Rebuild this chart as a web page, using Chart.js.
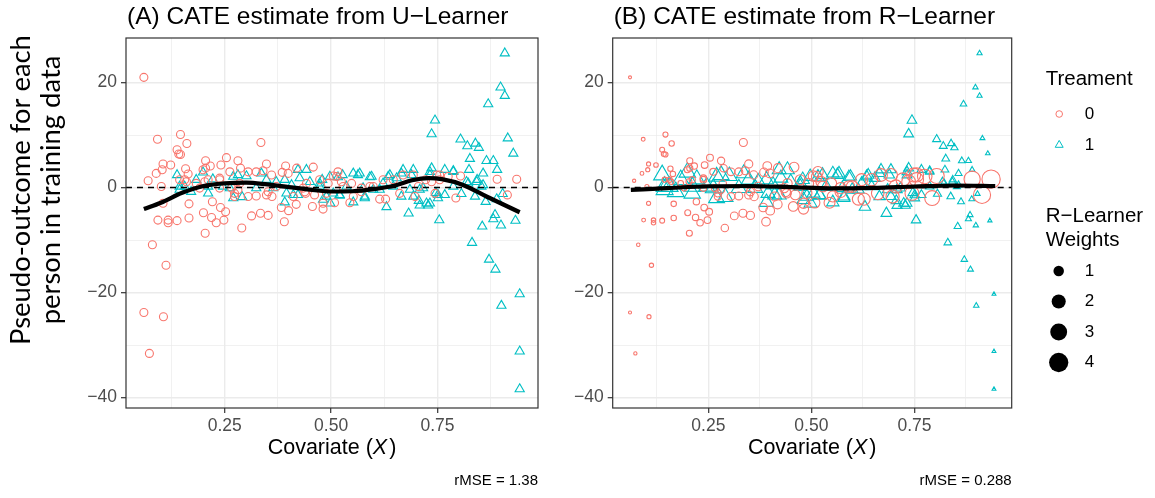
<!DOCTYPE html>
<html>
<head>
<meta charset="utf-8">
<script src="https://cdn.jsdelivr.net/npm/chart.js@4.4.1/dist/chart.umd.min.js"></script>
<style>
    body { margin: 0; background: #ffffff; }
    #wrap { position: relative; width: 1155px; height: 498px; }
    #chartA { position: absolute; left: 0; top: 0; }
    #chartB { position: absolute; left: 560px; top: 0; }
</style>
</head>
<body>
<div id="wrap">
    <canvas id="chartA" width="560" height="498"></canvas>
    <canvas id="chartB" width="595" height="498"></canvas>
</div>
<script>
// ---- data ----
// control group (Treament = 0)
var ctrlX = [0.060,0.092,0.146,0.161,0.335,0.138,0.142,0.146,0.080,0.112,0.060,0.106,0.073,0.936,0.914,0.890,0.804,0.793,
    0.070,0.089,0.105,0.103,0.101,0.105,0.093,0.117,0.117,0.138,0.123,0.158,0.164,0.166,0.166,0.156,0.199,0.205,0.216,0.204,
    0.200,0.219,0.230,0.221,0.240,0.248,0.252,0.241,0.254,0.238,0.238,0.281,0.287,0.305,0.305,0.324,0.313,0.334,0.352,0.290,
    0.348,0.340,0.324,0.360,0.361,0.348,0.281,0.273,0.393,0.399,0.385,0.383,0.400,0.390,0.419,0.418,0.411,0.458,0.456,0.481,
    0.481,0.440,0.473,0.505,0.516,0.508,0.493,0.544,0.548,0.614,0.628,0.622,0.661,0.669,0.693,0.697,0.722,0.748,0.755,0.744,
    0.571,0.591,0.528,0.442,0.371,0.285,0.191,0.183,0.144,0.211,0.262,0.434,0.461,0.489,0.646,0.552,
    0.513,0.524,0.571,0.755,0.775,0.736,0.705,0.599,0.160,0.205,0.203,0.238,0.266,0.273,0.352,0.438];
var ctrlY = [21.0,9.2,10.1,8.4,8.6,7.2,6.4,6.3,-10.9,-14.8,-23.8,-24.6,-31.6,1.6,-1.4,1.6,2.2,-2.0,
    1.3,2.7,4.5,3.4,0.2,-3.0,-6.2,-6.2,-6.7,-6.3,4.3,3.6,2.6,-3.1,-5.8,1.5,3.4,5.1,4.1,-8.7,
    -4.8,-5.7,-6.7,-2.7,-3.8,-6.2,-4.6,4.3,5.7,1.8,-0.1,5.1,3.7,3.0,-1.7,-1.6,-5.4,-4.9,-5.3,-7.7,
    4.5,3.2,3.0,2.4,-1.7,-1.4,-0.4,-1.1,4.1,2.7,2.9,-3.8,-4.4,-6.5,3.7,-3.2,-1.7,3.9,-3.6,-4.1,
    -3.0,-1.1,1.5,2.2,3.0,-2.9,0.8,-2.9,0.8,-2.2,-2.2,1.5,-1.1,2.4,2.4,-1.7,1.5,2.4,1.5,-1.1,
    -0.8,0.2,0.2,0.8,0.2,0.8,-0.1,0.8,1.5,1.5,3.0,-0.1,-1.4,-1.1,1.5,-1.7,
    2.1,1.1,-0.1,2.4,2.1,1.1,0.2,0.2,1.1,3.7,1.1,1.5,-0.1,-1.7,-0.8,-0.8];
// R-learner weights (marker size in panel B)
var ctrlW = [0.04,0.11,0.25,0.29,0.73,0.23,0.24,0.25,0.08,0.16,0.04,0.14,0.06,4.1,3.6,3.2,2.76,2.7,
    0.06,0.10,0.14,0.14,0.13,0.14,0.11,0.17,0.17,0.23,0.19,0.28,0.30,0.30,0.30,0.27,0.37,0.39,0.42,0.38,
    0.37,0.43,0.45,0.43,0.48,0.50,0.50,0.48,0.51,0.47,0.47,0.59,0.61,0.66,0.66,0.70,0.68,0.73,0.77,0.62,
    0.76,0.74,0.70,0.80,0.80,0.76,0.59,0.57,0.87,0.89,0.85,0.84,0.89,0.86,0.96,0.96,0.93,1.11,1.10,1.20,
    1.20,1.03,1.17,1.30,1.33,1.30,1.25,1.42,1.43,1.72,1.77,1.75,1.90,1.95,2.07,2.09,2.24,2.37,2.42,2.35,
    1.53,1.63,1.37,1.04,0.82,0.60,0.35,0.33,0.25,0.41,0.53,1.01,1.12,1.23,1.83,1.45,
    1.32,1.36,1.53,2.42,2.55,2.30,2.13,1.66,0.28,0.39,0.38,0.47,0.55,0.57,0.77,1.03];

// treated group (Treament = 1)
var trtX = [0.908,0.898,0.908,0.869,0.744,0.736,0.915,0.804,0.820,0.839,0.847,0.928,0.826,0.865,0.881,0.824,0.890,0.857,
    0.787,0.843,0.822,0.853,0.838,0.806,0.863,0.889,0.903,0.885,0.881,0.899,0.933,0.855,0.831,0.871,0.886,0.943,0.900,0.943,
    0.943,0.754,0.682,0.630,0.552,0.579,0.732,0.728,0.708,0.706,0.751,0.767,0.746,0.716,0.736,0.732,0.693,0.669,0.638,0.654,
    0.622,0.599,0.595,0.567,0.552,0.527,0.516,0.505,0.498,0.520,0.479,0.473,0.442,0.450,0.426,0.422,0.395,0.391,0.371,0.348,
    0.336,0.324,0.301,0.281,0.270,0.270,0.291,0.262,0.222,0.211,0.211,0.199,0.183,0.171,0.156,0.144,0.138,0.144,0.246,0.364,
    0.407,0.489,0.536,0.575,0.614,0.646,0.685,0.693,0.787,
    0.497,0.563,0.591,0.634,0.665,0.689,0.708,0.732,0.767,0.787,0.818,0.842,0.857,0.579,0.520,0.665,0.724,0.751,
    0.391,0.411,0.422,0.473,0.481];
var trtY = [25.6,19.1,17.5,15.9,12.8,10.2,9.4,9.2,7.9,8.4,7.6,6.5,5.5,5.1,5.1,3.4,3.4,2.7,
    3.2,1.5,0.8,0.2,-1.7,-1.2,-2.7,-2.2,-1.2,-5.2,-6.0,-7.2,-6.3,-7.4,-10.5,-13.7,-15.6,-20.3,-22.5,-31.2,
    -38.4,-6.2,-4.9,-3.7,-2.8,-1.7,-3.0,-3.4,-3.4,-2.5,-2.0,-1.4,-1.0,-0.1,3.7,2.4,3.4,3.4,2.4,1.8,
    0.8,-0.4,2.1,2.7,2.7,2.4,2.0,-1.1,-3.0,-1.5,1.5,0.2,3.4,1.1,1.8,-1.4,-1.1,-2.8,1.1,1.5,
    2.7,-0.1,2.2,2.4,2.1,-2.0,-1.8,-0.1,1.6,-1.1,0.2,2.9,1.5,-0.8,0.2,-0.4,2.4,0.2,0.2,-0.1,
    0.5,-1.7,0.2,-0.1,-0.4,0.2,-0.4,-1.7,0.2,
    2.1,2.4,2.0,2.1,2.7,2.4,-0.4,3.0,3.4,3.0,1.1,1.1,0.5,-2.0,-1.4,-1.7,-3.0,-1.4,
    1.5,-1.4,3.4,0.8,-2.3];
var trtW = [0.15,0.17,0.15,0.29,0.72,0.75,0.13,0.49,0.45,0.40,0.38,0.10,0.44,0.31,0.24,0.44,0.20,0.35,
    0.55,0.39,0.45,0.36,0.41,0.49,0.32,0.21,0.16,0.23,0.24,0.17,0.08,0.36,0.42,0.28,0.22,0.05,0.17,0.05,
    0.05,0.70,0.90,1.04,1.23,1.17,0.76,0.77,0.82,0.83,0.70,0.63,0.72,0.80,0.75,0.76,0.87,0.94,1.02,0.97,
    1.06,1.13,1.14,1.20,1.23,1.31,1.34,1.37,1.38,1.33,1.43,1.45,1.53,1.50,1.57,1.58,1.62,1.64,1.72,1.79,
    1.83,1.88,1.97,2.03,2.07,2.07,2.00,2.09,2.18,2.21,2.21,2.25,2.30,2.33,2.37,2.40,2.40,2.40,2.12,1.75,
    1.61,1.40,1.28,1.18,1.08,0.99,0.89,0.87,0.55,
    1.38,1.21,1.13,1.03,0.95,0.88,0.82,0.76,0.63,0.55,0.46,0.39,0.35,1.17,1.33,0.95,0.78,0.70,
    1.64,1.60,1.58,1.45,1.42];

// fitted CATE curves
var fitAX = [0.06,0.10,0.15,0.20,0.25,0.30,0.35,0.40,0.45,0.50,0.55,0.60,0.65,0.69,0.73,0.76,0.81,0.865,0.943];
var fitAY = [-4.1,-2.9,-1.0,0.3,0.8,0.95,0.6,0.1,-0.4,-0.75,-0.7,-0.3,0.4,1.4,1.8,1.6,0.5,-1.7,-4.7];
var fitBX = [0.062,0.15,0.25,0.35,0.45,0.55,0.65,0.75,0.85,0.946];
var fitBY = [-0.45,-0.1,0.25,0.3,0.1,-0.15,-0.05,0.2,0.4,0.3];

var xTicks = [0.125,0.25,0.375,0.5,0.625,0.75,0.875];
var yTicks = [-40,-30,-20,-10,0,10,20];
var weightBreaks = [1,2,3,4];

var RED = '#F8766D', TEAL = '#00BFC4';
var FONT = '"Liberation Sans", Arial, Helvetica, sans-serif';
var YFONT = 'Lato, "Open Sans", sans-serif';

function pts(xs, ys) {
    return xs.map(function (x, i) { return { x: x, y: ys[i] }; });
}
function sizeFor(w) {
    return Math.sqrt(1.5 + 20 * w);
}
function isMajorX(v) { return Math.abs(v * 4 - Math.round(v * 4)) < 1e-6; }
function isMajorY(v) { return v % 20 === 0; }

function makeScales(yWidth) {
    return {
        x: {
            type: 'linear', min: 0.018, max: 0.986,
            afterBuildTicks: function (s) { s.ticks = xTicks.map(function (v) { return { value: v }; }); },
            afterFit: function (s) { s.height = 90; },
            border: { display: false },
            grid: {
                color: '#EBEBEB',
                lineWidth: function (c) { return c.tick && isMajorX(c.tick.value) ? 1.4 : 0.7; },
                tickColor: function (c) { return c.tick && isMajorX(c.tick.value) ? '#333333' : 'rgba(0,0,0,0)'; },
                tickLength: 5,
                tickWidth: 1.2
            },
            ticks: {
                autoSkip: false, maxRotation: 0, padding: 3,
                color: '#4D4D4D', font: { family: FONT, size: 17.5 },
                callback: function (v) { return isMajorX(v) ? v.toFixed(2) : ''; }
            }
        },
        y: {
            type: 'linear', min: -42, max: 28.5,
            afterBuildTicks: function (s) { s.ticks = yTicks.map(function (v) { return { value: v }; }); },
            afterFit: function (s) { s.width = yWidth; },
            border: { display: false },
            grid: {
                color: '#EBEBEB',
                lineWidth: function (c) { return c.tick && isMajorY(c.tick.value) ? 1.4 : 0.7; },
                tickColor: function (c) { return c.tick && isMajorY(c.tick.value) ? '#333333' : 'rgba(0,0,0,0)'; },
                tickLength: 5,
                tickWidth: 1.2
            },
            ticks: {
                autoSkip: false, padding: 4,
                color: '#4D4D4D', font: { family: FONT, size: 17.5 },
                callback: function (v) {
                    if (!isMajorY(v)) return '';
                    return v < 0 ? '\u2212' + Math.abs(v) : String(v);
                }
            }
        }
    };
}

// dashed zero line under the fitted curve, frame, titles, legend
var decor = {
    id: 'decor',
    beforeDatasetDraw: function (chart, args) {
        if (args.index !== 0) return;
        var ctx = chart.ctx, a = chart.chartArea;
        var y0 = chart.scales.y.getPixelForValue(0);
        ctx.save();
        ctx.strokeStyle = '#000000';
        ctx.lineWidth = 1.6;
        ctx.setLineDash([6, 5]);
        ctx.beginPath();
        ctx.moveTo(a.left, y0);
        ctx.lineTo(a.right, y0);
        ctx.stroke();
        ctx.restore();
    },
    afterDraw: function (chart, args, o) {
        var ctx = chart.ctx, a = chart.chartArea;
        ctx.save();
        // panel border
        ctx.strokeStyle = '#333333';
        ctx.lineWidth = 1.2;
        ctx.strokeRect(a.left, a.top, a.right - a.left, a.bottom - a.top);

        ctx.fillStyle = '#000000';
        ctx.textBaseline = 'middle';
        // panel title
        ctx.font = '24.5px ' + FONT;
        ctx.textAlign = 'left';
        ctx.fillText(o.title, a.left + 1, 17);

        // x axis title with italic X
        var cx = (a.left + a.right) / 2, ty = 448;
        var p1 = 'Covariate (', p2 = 'X', p3 = ')';
        ctx.font = '21.5px ' + FONT;
        var w1 = ctx.measureText(p1).width, w3 = ctx.measureText(p3).width;
        ctx.font = 'italic 21.5px ' + FONT;
        var w2 = ctx.measureText(p2).width;
        var sx = cx - (w1 + w2 + w3 + 2) / 2;
        ctx.font = '21.5px ' + FONT;
        ctx.fillText(p1, sx, ty);
        ctx.font = 'italic 21.5px ' + FONT;
        ctx.fillText(p2, sx + w1, ty);
        ctx.font = '21.5px ' + FONT;
        ctx.fillText(p3, sx + w1 + w2 + 2, ty);

        // rMSE note
        ctx.font = '15px ' + FONT;
        ctx.textAlign = 'right';
        ctx.fillText(o.note, a.right, 481);

        if (o.yTitle) {
            // size the first line to the span it has in the picture
            ctx.font = '100px ' + YFONT;
            var fs = 100 * 310 / ctx.measureText(o.yTitle[0]).width;
            ctx.save();
            ctx.translate(0, 190);
            ctx.rotate(-Math.PI / 2);
            ctx.textAlign = 'center';
            ctx.textBaseline = 'alphabetic';
            ctx.font = fs.toFixed(1) + 'px ' + YFONT;
            ctx.fillText(o.yTitle[0], 0, 30);
            ctx.fillText(o.yTitle[1], 0, 60);
            ctx.restore();
        }

        if (o.legend) {
            var lx = o.legend.x;
            ctx.textAlign = 'left';
            ctx.font = '20.5px ' + FONT;
            ctx.fillText('Treament', lx, 79);
            ctx.fillStyle = 'rgba(0,0,0,0)';
            ctx.lineWidth = 1;
            ctx.strokeStyle = RED;
            Chart.helpers.drawPoint(ctx, { pointStyle: 'circle', radius: 3.3, borderWidth: 1 }, lx + 13.5, 114);
            ctx.strokeStyle = TEAL;
            Chart.helpers.drawPoint(ctx, { pointStyle: 'triangle', radius: 4.6, borderWidth: 1 }, lx + 13.5, 145);
            ctx.fillStyle = '#000000';
            ctx.font = '17px ' + FONT;
            ctx.fillText('0', lx + 39, 114);
            ctx.fillText('1', lx + 39, 145);

            ctx.font = '20.5px ' + FONT;
            ctx.fillText('R\u2212Learner', lx, 216);
            ctx.fillText('Weights', lx, 240);
            ctx.font = '17px ' + FONT;
            weightBreaks.forEach(function (w, i) {
                var yy = 271 + i * 30.5;
                ctx.beginPath();
                ctx.arc(lx + 13, yy, sizeFor(w) + 0.6, 0, Math.PI * 2);
                ctx.fill();
                ctx.fillText(String(w), lx + 39, yy);
            });
        }
        ctx.restore();
    }
};

function makeChart(id, opts) {
    var c = {
        type: 'scatter',
        data: {
            datasets: [
                {
                    type: 'line',
                    label: 'fit',
                    data: pts(opts.fitX, opts.fitY),
                    borderColor: '#000000',
                    borderWidth: 4.2,
                    pointRadius: 0,
                    tension: 0.4,
                    cubicInterpolationMode: 'monotone',
                    fill: false,
                    order: 0
                },
                {
                    label: '0',
                    data: pts(ctrlX, ctrlY),
                    pointStyle: 'circle',
                    borderColor: RED,
                    backgroundColor: 'rgba(0,0,0,0)',
                    borderWidth: 1.1,
                    pointRadius: opts.circleRadius,
                    order: 1
                },
                {
                    label: '1',
                    data: pts(trtX, trtY),
                    pointStyle: 'triangle',
                    borderColor: TEAL,
                    backgroundColor: 'rgba(0,0,0,0)',
                    borderWidth: 1.1,
                    pointRadius: opts.triRadius,
                    order: 2
                }
            ]
        },
        options: {
            responsive: false,
            animation: false,
            events: [],
            layout: { padding: { left: 0, top: 38, right: opts.padRight, bottom: 0 } },
            scales: makeScales(opts.yWidth),
            plugins: {
                legend: { display: false },
                tooltip: { enabled: false },
                decor: opts.decor
            }
        },
        plugins: [decor]
    };
    return new Chart(document.getElementById(id), c);
}

makeChart('chartA', {
    fitX: fitAX, fitY: fitAY,
    circleRadius: 4,
    triRadius: 5.3,
    yWidth: 126,
    padRight: 22,
    decor: {
        title: '(A) CATE estimate from U\u2212Learner',
        note: 'rMSE = 1.38',
        yTitle: ['Pseudo-outcome for each', 'person in training data']
    }
});

makeChart('chartB', {
    fitX: fitBX, fitY: fitBY,
    circleRadius: function (c) { return sizeFor(ctrlW[c.dataIndex]); },
    triRadius: function (c) { return 1.4 * sizeFor(trtW[c.dataIndex]); },
    yWidth: 52.7,
    padRight: 143.3,
    decor: {
        title: '(B) CATE estimate from R\u2212Learner',
        note: 'rMSE = 0.288',
        legend: { x: 485.7 }
    }
});
</script>
</body>
</html>
